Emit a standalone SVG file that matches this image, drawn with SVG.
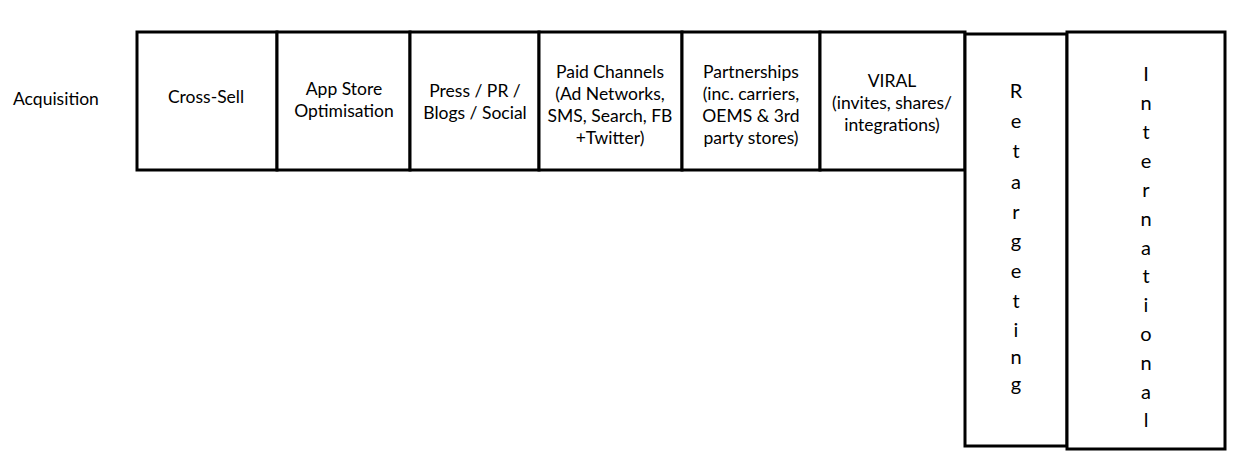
<svg xmlns="http://www.w3.org/2000/svg" width="1241" height="459" viewBox="0 0 1241 459">
<style>
.box{fill:#fff;stroke:#000;stroke-width:3}
text{font-family:"Lato","Open Sans","Liberation Sans",sans-serif;font-size:17.5px;fill:#000;text-anchor:middle;dominant-baseline:central}
.l{text-anchor:start}
.v{font-size:20px}
</style>
<rect width="1241" height="459" fill="#fff"/>
<g id="label-acquisition"><text class="l" x="13" y="98">Acquisition</text></g>
<g id="cross-sell"><rect class="box" x="137" y="32" width="140" height="138"/><text x="206" y="96">Cross-Sell</text></g>
<g id="app-store"><rect class="box" x="277" y="32" width="133" height="138"/><text x="344" y="88">App Store</text><text x="344" y="110">Optimisation</text></g>
<g id="press"><rect class="box" x="410" y="32" width="129" height="138"/><text x="475" y="90">Press / PR /</text><text x="475" y="112">Blogs / Social</text></g>
<g id="paid"><rect class="box" x="539" y="32" width="143" height="138"/><text x="610" y="71">Paid Channels</text><text x="610" y="93">(Ad Networks,</text><text x="610" y="115">SMS, Search, FB</text><text x="610" y="137">+Twitter)</text></g>
<g id="partnerships"><rect class="box" x="682" y="32" width="138" height="138"/><text x="751" y="71">Partnerships</text><text x="751" y="93">(inc. carriers,</text><text x="751" y="115">OEMS &amp; 3rd</text><text x="751" y="137">party stores)</text></g>
<g id="viral"><rect class="box" x="820" y="32" width="145" height="138"/><text x="892" y="80">VIRAL</text><text x="892" y="102">(invites, shares/</text><text x="892" y="124">integrations)</text></g>
<g id="retargeting" class="v"><rect class="box" x="965" y="34" width="102" height="412"/>
<text class="v" x="1016" y="90">R</text><text class="v" x="1016" y="120">e</text><text class="v" x="1016" y="150">t</text><text class="v" x="1016" y="181">a</text><text class="v" x="1016" y="211">r</text><text class="v" x="1016" y="240">g</text><text class="v" x="1016" y="270">e</text><text class="v" x="1016" y="300">t</text><text class="v" x="1016" y="329">i</text><text class="v" x="1016" y="356">n</text><text class="v" x="1016" y="383">g</text></g>
<g id="international"><rect class="box" x="1067" y="32" width="158" height="417"/>
<text class="v" x="1146" y="73">I</text><text class="v" x="1146" y="102">n</text><text class="v" x="1146" y="131">t</text><text class="v" x="1146" y="160">e</text><text class="v" x="1146" y="189">r</text><text class="v" x="1146" y="218">n</text><text class="v" x="1146" y="247">a</text><text class="v" x="1146" y="275">t</text><text class="v" x="1146" y="304">i</text><text class="v" x="1146" y="333">o</text><text class="v" x="1146" y="362">n</text><text class="v" x="1146" y="391">a</text><text class="v" x="1146" y="419">l</text></g>
<g id="connectors"></g>
</svg>
